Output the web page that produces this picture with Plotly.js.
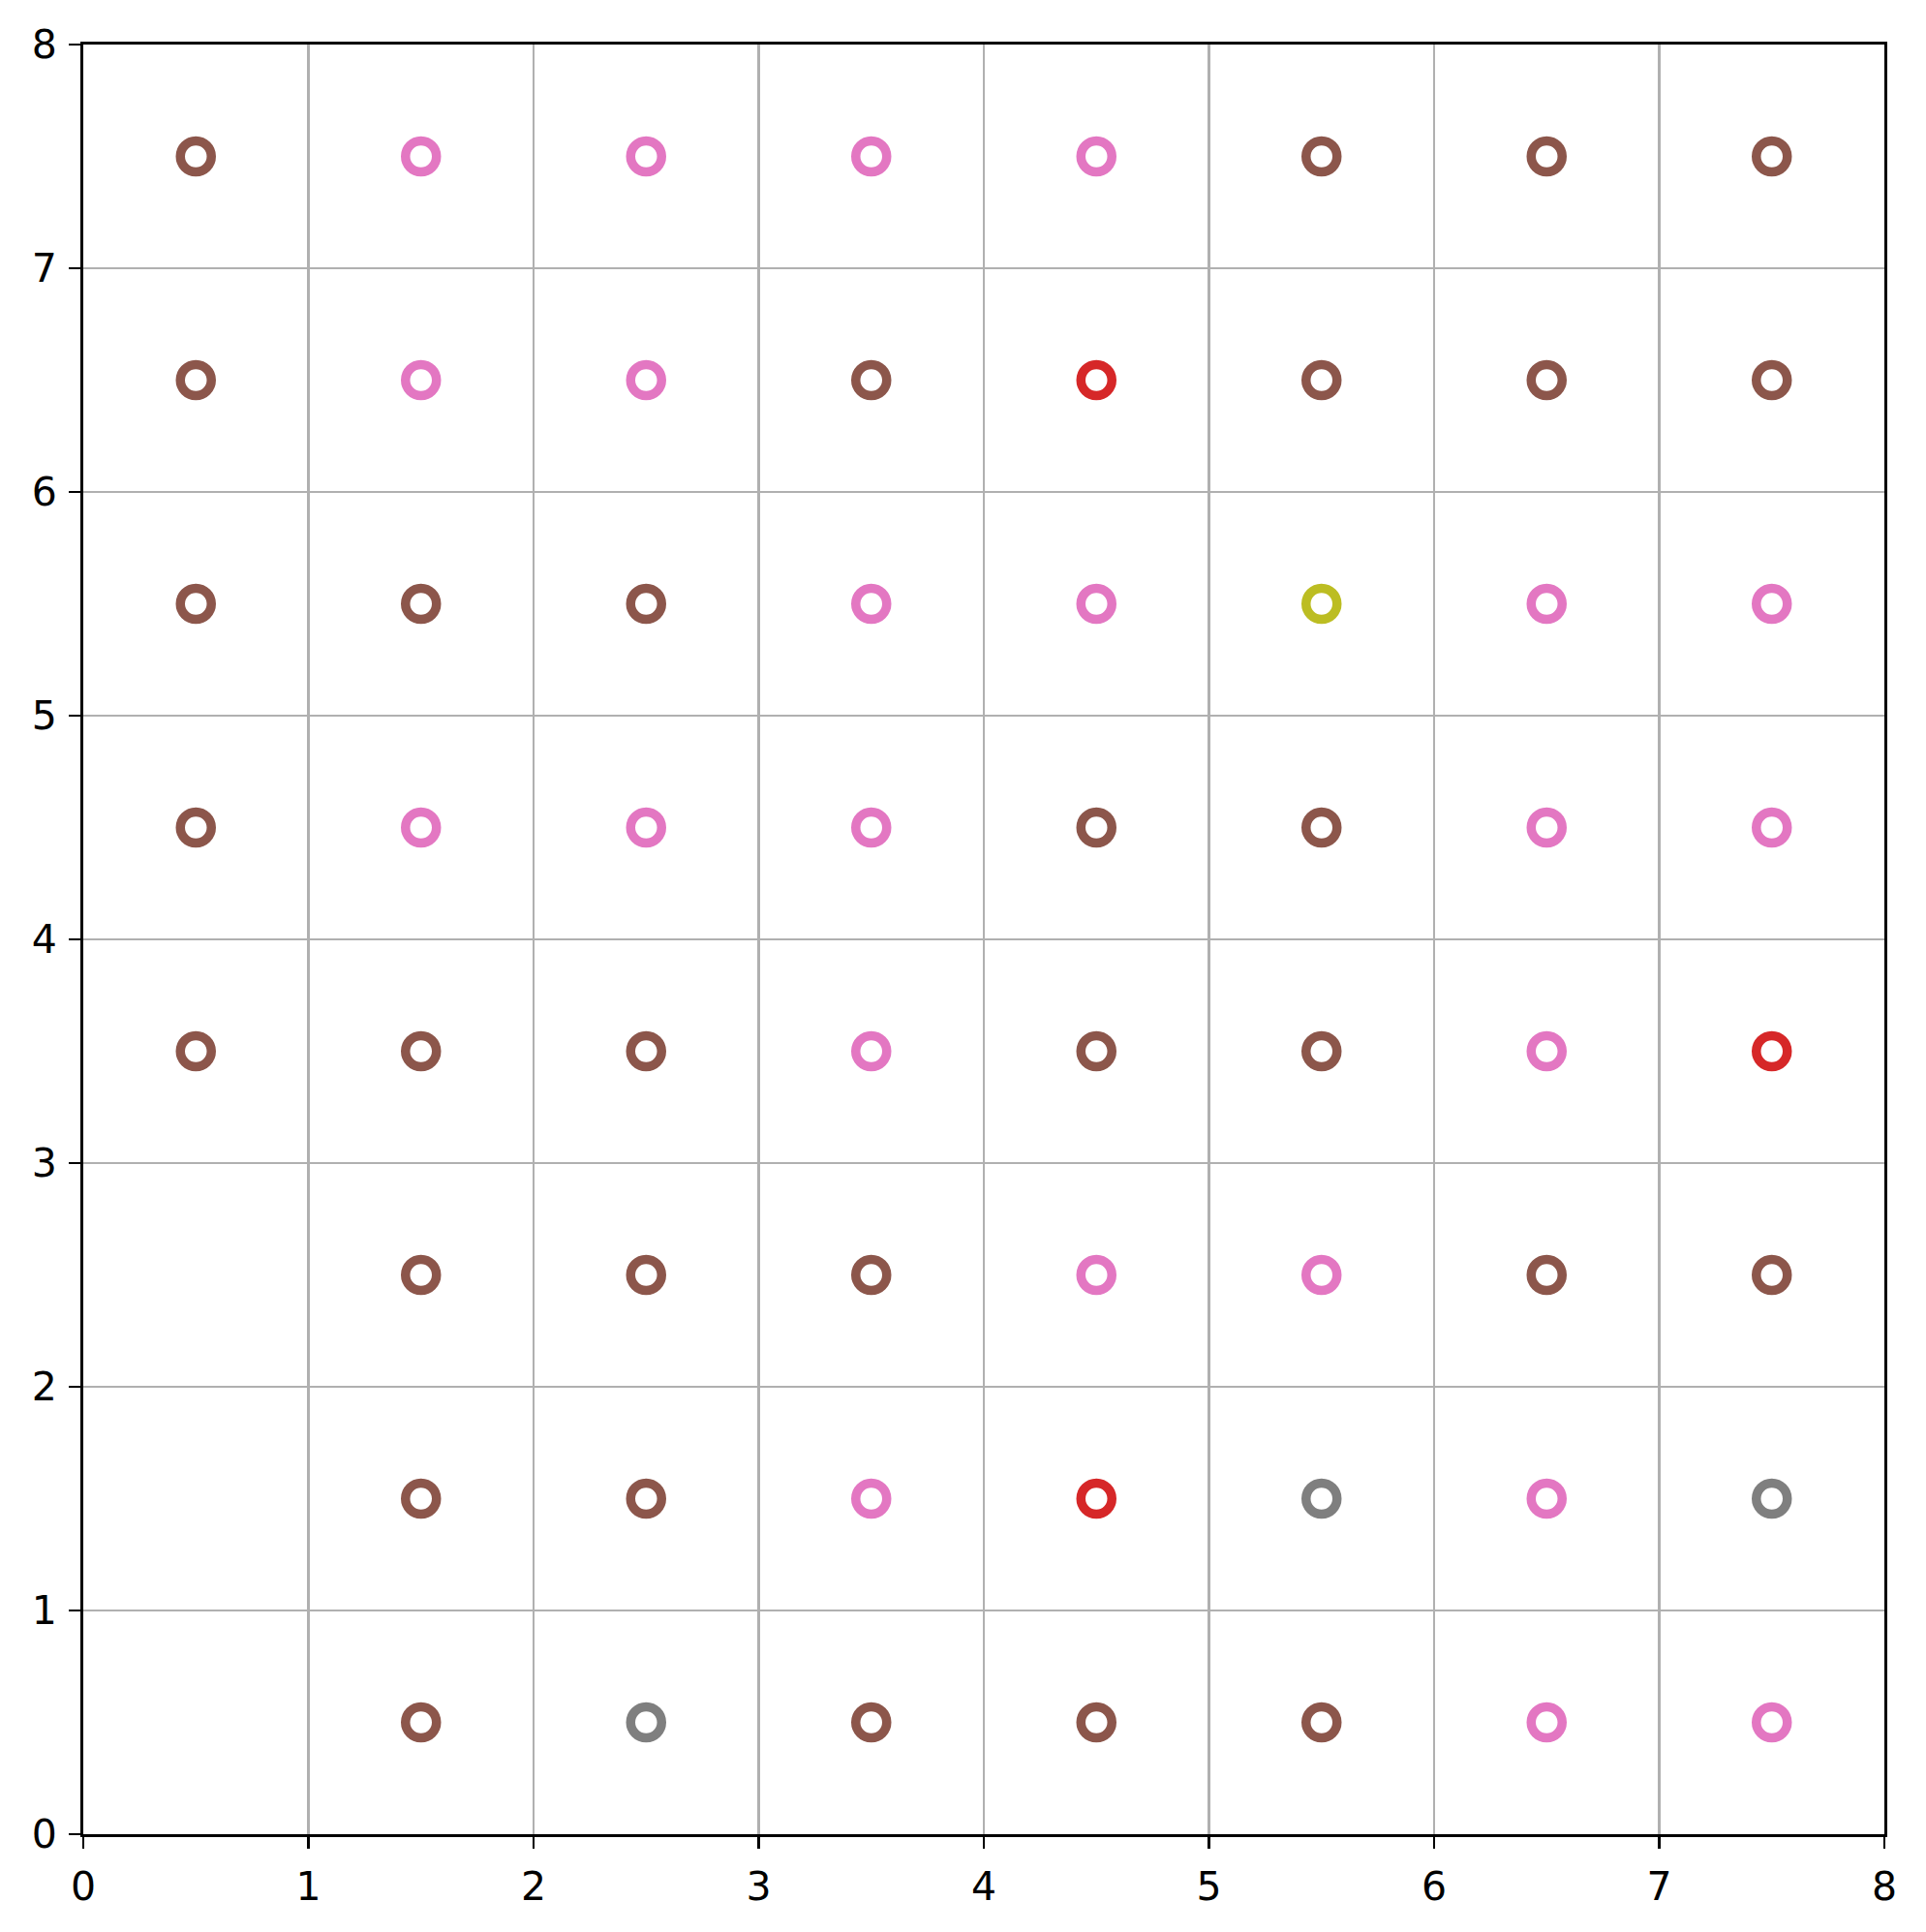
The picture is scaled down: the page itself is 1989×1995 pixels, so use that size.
<!DOCTYPE html>
<html>
<head>
<meta charset="utf-8">
<script src="https://cdn.plot.ly/plotly-3.0.1.min.js"></script>
<style>html,body{margin:0;padding:0;background:#fff;}</style>
</head>
<body>
<div id="chart" style="width:1989px;height:1995px;"></div>
<script>
// Cell centers (x) and rows (y, top to bottom)
const xCenters = [0.5, 1.5, 2.5, 3.5, 4.5, 5.5, 6.5, 7.5];
const yRows = [7.5, 6.5, 5.5, 4.5, 3.5, 2.5, 1.5, 0.5];
// Class of each cell per row ("" = empty)
const row75 = ["brown", "pink", "pink", "pink", "pink", "brown", "brown", "brown"];
const row65 = ["brown", "pink", "pink", "brown", "red", "brown", "brown", "brown"];
const row55 = ["brown", "brown", "brown", "pink", "pink", "olive", "pink", "pink"];
const row45 = ["brown", "pink", "pink", "pink", "brown", "brown", "pink", "pink"];
const row35 = ["brown", "brown", "brown", "pink", "brown", "brown", "pink", "red"];
const row25 = ["", "brown", "brown", "brown", "pink", "pink", "brown", "brown"];
const row15 = ["", "brown", "brown", "pink", "red", "gray", "pink", "gray"];
const row05 = ["", "brown", "gray", "brown", "brown", "brown", "pink", "pink"];
const tickVals = [0, 1, 2, 3, 4, 5, 6, 7, 8];

const palette = {brown: "#8c564b", pink: "#e377c2", red: "#d62728", gray: "#7f7f7f", olive: "#bcbd22"};
const rows = [row75, row65, row55, row45, row35, row25, row15, row05];

const xs = [], ys = [], cs = [];
rows.forEach((r, ri) => {
  r.forEach((c, ci) => {
    if (c) { xs.push(xCenters[ci]); ys.push(yRows[ri]); cs.push(palette[c]); }
  });
});

const trace = {
  type: "scatter", mode: "markers", x: xs, y: ys,
  marker: {symbol: "circle-open", size: 32, color: cs, line: {width: 9.5}},
  hoverinfo: "x+y", showlegend: false
};

const axisCommon = {
  range: [0, 8], tickvals: tickVals, ticktext: tickVals.map(String),
  showgrid: true, gridcolor: "#b0b0b0", gridwidth: 2.8,
  zeroline: false, showline: true, mirror: true, linecolor: "#000", linewidth: 3,
  ticks: "outside", ticklen: 12, tickwidth: 2.8, tickcolor: "#000",
  tickfont: {family: "DejaVu Sans", size: 41, color: "#000"},
  fixedrange: true
};

const layout = {
  width: 1989, height: 1995,
  margin: {l: 86, r: 43, t: 46, b: 101},
  paper_bgcolor: "#fff", plot_bgcolor: "#fff",
  xaxis: Object.assign({}, axisCommon, {ticklabelstandoff: 4}),
  yaxis: Object.assign({}, axisCommon, {ticklabelstandoff: 4}),
  showlegend: false
};

Plotly.newPlot("chart", [trace], layout, {displayModeBar: false, staticPlot: true});
</script>
</body>
</html>
